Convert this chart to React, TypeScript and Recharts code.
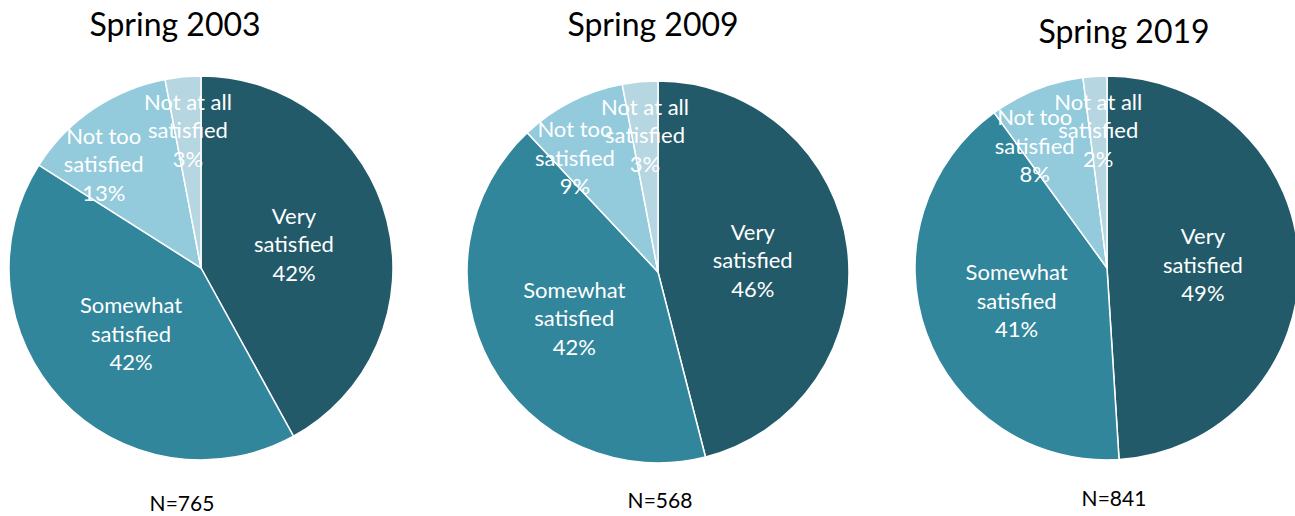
import { PieChart, Pie, Cell } from "recharts";

const categories = ["Very satisfied", "Somewhat satisfied", "Not too satisfied", "Not at all satisfied"];
const categoryLines = [["Very", "satisfied"], ["Somewhat", "satisfied"], ["Not too", "satisfied"], ["Not at all", "satisfied"]];
const spring2003 = [42, 42, 13, 3];
const spring2009 = [46, 42, 9, 3];
const spring2019 = [49, 41, 8, 2];
const titles = ["Spring 2003", "Spring 2009", "Spring 2019"];
const sampleSizes = [765, 568, 841];

const COLORS = ["#225a69", "#31869c", "#93cbdc", "#b6d6e1"];
const FONT = "Lato, 'Open Sans', sans-serif";
const RADIAN = Math.PI / 180;

const toData = (values: number[]) => categories.map((name, i) => ({ name, value: values[i] }));

// big slices: label halfway out; narrow ones pushed out, mid-size ones nudged toward the slice start
const renderLabel = (props: any) => {
  const { cx, cy, midAngle, outerRadius, percent, index, value } = props;
  let angle = midAngle;
  let f = 0.5;
  if (percent < 0.05) f = 0.72;
  else if (percent < 0.15) {
    f = 0.74;
    angle = midAngle + 9;
  }
  const r = outerRadius * f;
  const x = cx + r * Math.cos(-angle * RADIAN);
  const y = cy + r * Math.sin(-angle * RADIAN);
  const lines = [...categoryLines[index], `${value}%`];
  const lh = 28.5;
  const y0 = y - lh + 8;
  return (
    <text x={x} y={y0} textAnchor="middle" fill="#fff" fontSize={22} fontFamily={FONT}>
      {lines.map((l, i) => (
        <tspan key={i} x={x} y={y0 + i * lh}>
          {l}
        </tspan>
      ))}
    </text>
  );
};

// pie geometry: [cx, cy, radius, titleX, titleY, nX, nY]
const layout = [
  [201, 268, 192, 175, 36, 182, 511],
  [658, 272, 191, 653, 36, 660, 508],
  [1107, 268, 192, 1124, 43, 1114, 506],
];
const series = [spring2003, spring2009, spring2019];

export default function App() {
  return (
    <div style={{ position: "absolute", left: 0, top: 0, width: 1295, height: 516, background: "#fff" }}>
      <PieChart width={1295} height={516} margin={{ top: 0, right: 0, bottom: 0, left: 0 }}>
        {series.map((values, k) => (
          <Pie
            key={k}
            data={toData(values)}
            dataKey="value"
            cx={layout[k][0]}
            cy={layout[k][1]}
            outerRadius={layout[k][2]}
            startAngle={90}
            endAngle={-270}
            stroke="#fff"
            strokeWidth={1.5}
            labelLine={false}
            label={renderLabel}
            isAnimationActive={false}
          >
            {values.map((_, i) => (
              <Cell key={i} fill={COLORS[i]} />
            ))}
          </Pie>
        ))}
      </PieChart>
      <svg width={1295} height={516} style={{ position: "absolute", left: 0, top: 0, pointerEvents: "none" }}>
        {titles.map((t, k) => (
          <text key={t} x={layout[k][3]} y={layout[k][4]} textAnchor="middle" fontSize={32} fontFamily={FONT} fill="#000">
            {t}
          </text>
        ))}
        {sampleSizes.map((n, k) => (
          <text key={n} x={layout[k][5]} y={layout[k][6]} textAnchor="middle" fontSize={21} fontFamily={FONT} fill="#000">
            N={n}
          </text>
        ))}
      </svg>
    </div>
  );
}
